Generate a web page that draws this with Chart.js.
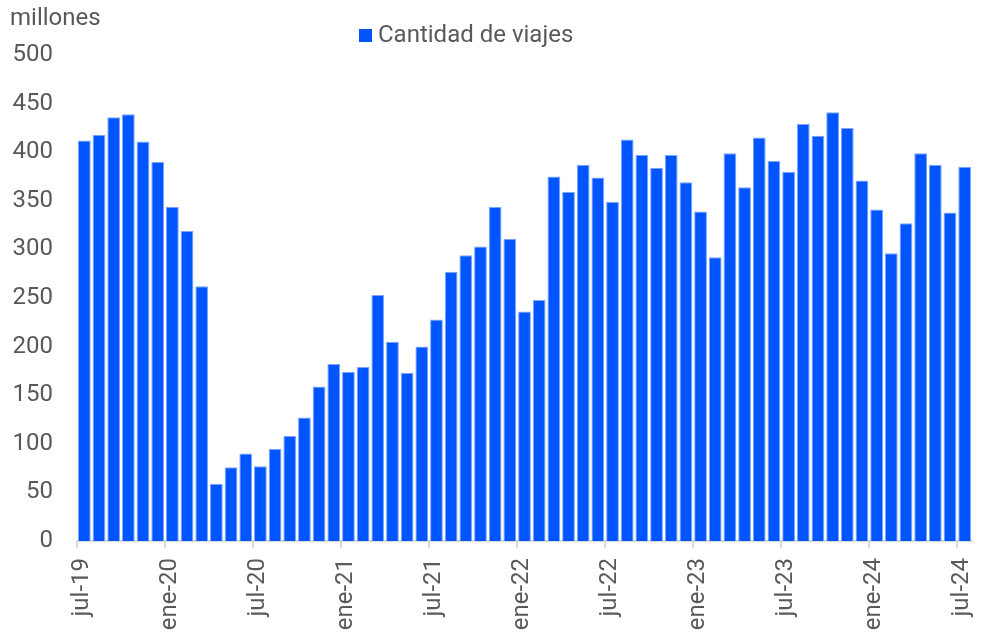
<!DOCTYPE html>
<html>
<head>
<meta charset="utf-8">
<script src="https://cdn.jsdelivr.net/npm/chart.js@4/dist/chart.umd.min.js"></script>
<style>
  body { margin: 0; background: #fff; }
  #wrap { position: relative; width: 982px; height: 633px; }
  #unit { position: absolute; left: 10px; top: 3px; font: 24px Roboto, sans-serif; color: #595959; }
  #leg { position: absolute; left: 359px; top: 20px; font: 24px Roboto, sans-serif; color: #595959; }
  #leg span { display: inline-block; width: 13px; height: 13px; background: #0055ff; margin-right: 6px; }
</style>
</head>
<body>
<div id="wrap">
  <canvas id="ch1" width="982" height="633"></canvas>
  <div id="unit">millones</div>
  <div id="leg"><span></span>Cantidad de viajes</div>
</div>
<script>
// meses jul-19 .. jul-24
var months = ['jul-19','ago-19','sep-19','oct-19','nov-19','dic-19','ene-20','feb-20','mar-20','abr-20','may-20','jun-20',
  'jul-20','ago-20','sep-20','oct-20','nov-20','dic-20','ene-21','feb-21','mar-21','abr-21','may-21','jun-21',
  'jul-21','ago-21','sep-21','oct-21','nov-21','dic-21','ene-22','feb-22','mar-22','abr-22','may-22','jun-22',
  'jul-22','ago-22','sep-22','oct-22','nov-22','dic-22','ene-23','feb-23','mar-23','abr-23','may-23','jun-23',
  'jul-23','ago-23','sep-23','oct-23','nov-23','dic-23','ene-24','feb-24','mar-24','abr-24','may-24','jun-24',
  'jul-24'];

// cantidad de viajes (millones)
var viajes = [412, 418, 436, 439, 411, 390, 344, 319, 262, 59, 76, 90,
  77, 95, 108, 127, 159, 182, 174, 179, 253, 205, 173, 200,
  228, 277, 294, 303, 344, 311, 236, 248, 375, 359, 387, 374,
  349, 413, 397, 384, 397, 369, 339, 292, 399, 364, 415, 391,
  380, 429, 417, 441, 425, 371, 341, 296, 327, 399, 387, 338,
  385];

// etiquetas del eje x (cada 6 meses)
var tickLabels = ['jul-19','ene-20','jul-20','ene-21','jul-21','ene-22','jul-22','ene-23','jul-23','ene-24','jul-24'];

var grey = '#595959';
var pts = viajes.map(function(v, i){ return {x: i + 0.5, y: v}; });

var chart = new Chart(document.getElementById('ch1').getContext('2d'), {
  type: 'bar',
  data: {
    datasets: [{
      label: 'Cantidad de viajes',
      data: pts,
      backgroundColor: '#0055ff',
      borderColor: '#7fa6ff',
      borderWidth: 1,
      barPercentage: 0.87,
      categoryPercentage: 1
    }]
  },
  options: {
    responsive: false,
    animation: false,
    layout: { padding: { top: 55, right: 10, left: 0, bottom: 0 } },
    plugins: { legend: { display: false }, tooltip: { enabled: false } },
    scales: {
      x: {
        type: 'linear',
        min: 0,
        max: 61,
        offset: false,
        afterFit: function(s){ s.height = 92; s.paddingLeft = 0; s.paddingRight = 0; },
        grid: { offset: false, drawOnChartArea: false, drawTicks: true, tickLength: 7, color: '#d9d9d9', lineWidth: 2 },
        border: { color: '#d9d9d9', width: 2 },
        ticks: {
          stepSize: 6,
          includeBounds: false,
          autoSkip: false,
          maxRotation: 90,
          minRotation: 90,
          padding: 10,
          labelOffset: 5,
          color: grey,
          font: { family: 'Roboto', size: 24 },
          callback: function(v){ return tickLabels[v / 6]; }
        }
      },
      y: {
        min: 0,
        max: 500,
        afterFit: function(s){ s.width = 77; },
        grid: { display: false, drawTicks: false },
        border: { display: false },
        ticks: { stepSize: 50, padding: 24, color: grey, font: { family: 'Roboto', size: 24 } }
      }
    }
  }
});
</script>
</body>
</html>
